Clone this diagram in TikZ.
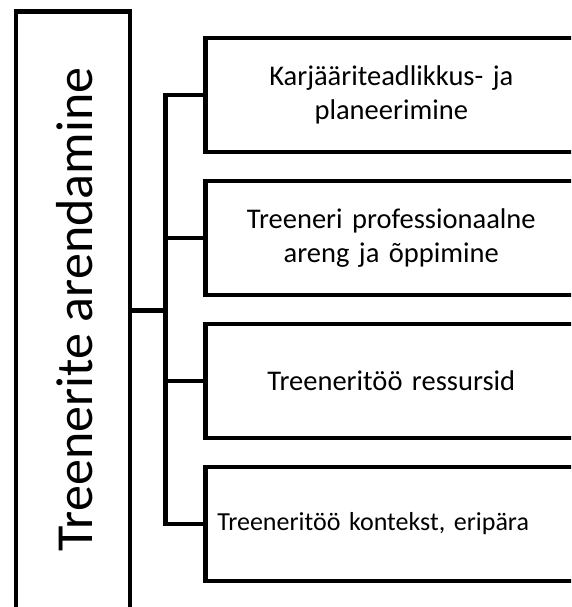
\documentclass[tikz,border=0pt]{standalone}
\usepackage{fontspec}
\setmainfont{Carlito}
\begin{document}
\begin{tikzpicture}[x=1pt,y=-1pt,
  frame/.style={draw=black,line width=4.6pt,rectangle,inner sep=0pt},
  topic/.style={frame,minimum width=372pt,minimum height=114pt,anchor=west,
    text width=348pt,inner xsep=12pt,align=center,
    font=\fontsize{28.5}{34}\selectfont},
  link/.style={draw=black,line width=4.6pt}]
\useasboundingbox (0,0) rectangle (571,607);
\clip (0,0) rectangle (571,607);
% main vertical box (runs past the lower edge)
\node[frame,minimum width=114pt,minimum height=612pt,anchor=north west] (main) at (13.5,9.5) {};
\node[rotate=90,anchor=base,font=\fontsize{52}{58}\selectfont] (title) at (92,309.5) {Treenerite arendamine};
% topic boxes (run past the right edge)
\node[topic] (b1) at (203,95) {Karjääriteadlikkus- ja\\planeerimine};
\node[topic] (b2) at (203,238) {Treeneri professionaalne\\areng ja õppimine};
\node[topic] (b3) at (203,381) {Treeneritöö ressursid};
\node[topic,align=left,font=\fontsize{26}{32}\selectfont] (b4) at (203,524) {Treeneritöö kontekst, eripära};
% connectors
\coordinate (j) at (165.5,310.5);
\draw[link] (main.east |- j) -- (j);
\draw[link] (b1.west) -- (j |- b1.west) -- (j |- b4.west) -- (b4.west);
\draw[link] (j |- b2.west) -- (b2.west);
\draw[link] (j |- b3.west) -- (b3.west);
\end{tikzpicture}
\end{document}
